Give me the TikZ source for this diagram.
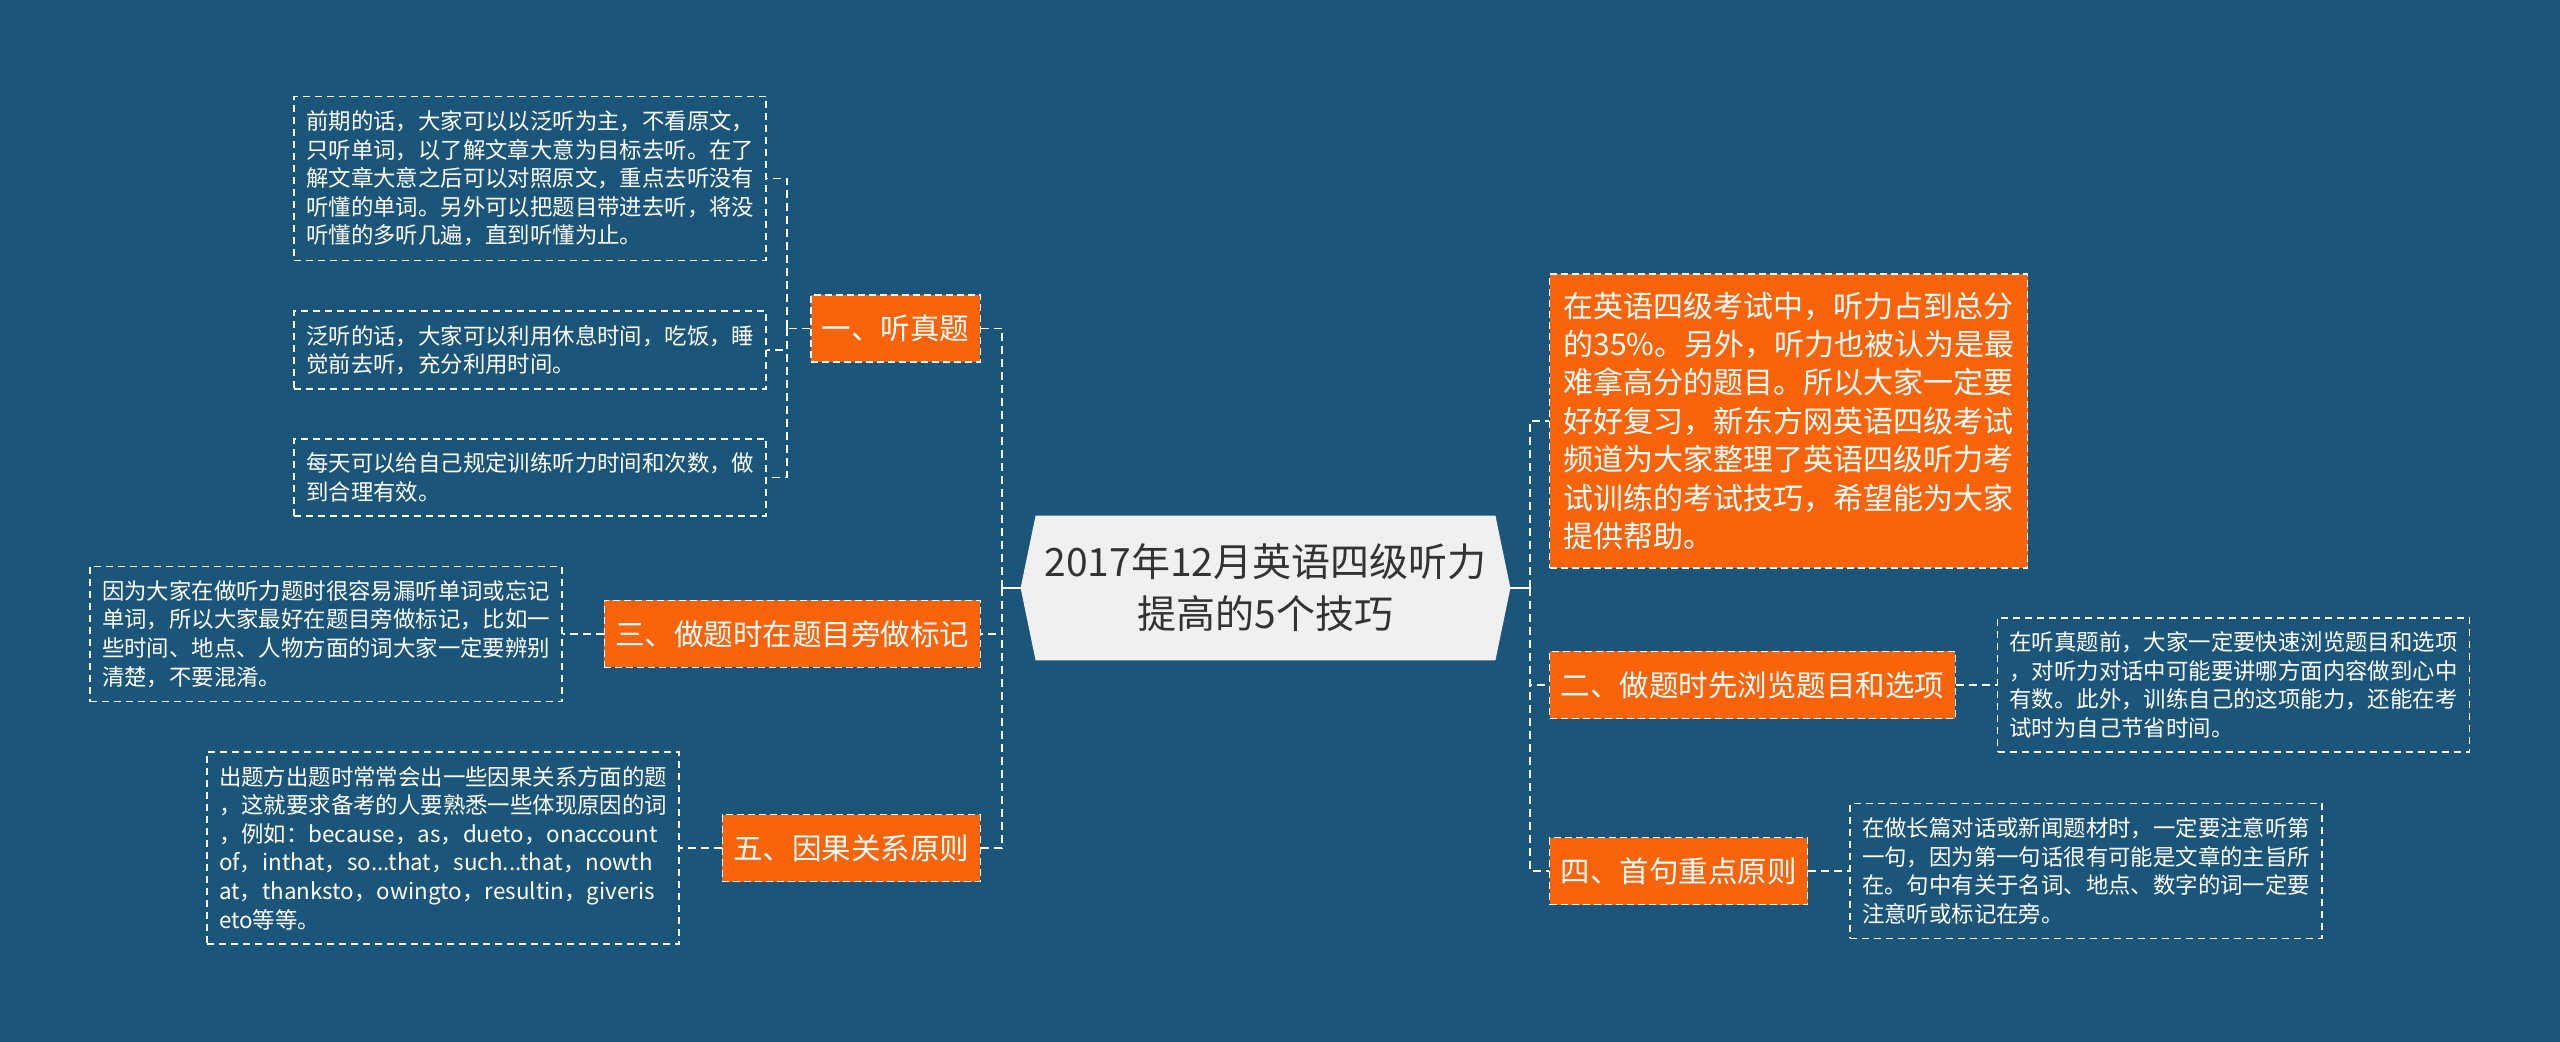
\documentclass[tikz,border=0pt]{standalone}
\usepackage{fontspec}
\setmainfont{Noto Sans CJK SC}
\usepackage{xcolor}
\definecolor{tipbg}{HTML}{1B5579}
\definecolor{tiporange}{HTML}{F9640A}
\definecolor{tiproot}{HTML}{F0F0F0}
\definecolor{tipink}{HTML}{333333}
\usepackage{tikz}
\usetikzlibrary{positioning,calc,backgrounds}
\tikzset{
  tipleaf/.style={draw=white,dash pattern=on 3.5pt off 2.5pt,line width=0.8pt,text=white,text width=224pt,align=left,inner xsep=6pt,inner ysep=7pt,font=\fontsize{11.2pt}{14.3pt}\selectfont},
  tipmain/.style={draw=white,dash pattern=on 3.5pt off 2pt,line width=0.6pt,fill=tiporange,text=white,inner xsep=5.5pt,minimum height=33.5pt,font=\fontsize{14.75pt}{19pt}\selectfont},
  tipnote/.style={tipmain,text width=225pt,align=left,inner xsep=7pt,inner ysep=9pt,font=\fontsize{15pt}{19.2pt}\selectfont},
  tipcenter/.style={text=tipink,align=center,minimum width=229.5pt,minimum height=72pt,font=\fontsize{19.5pt}{26pt}\selectfont},
  tiplink/.style={draw=white,dash pattern=on 4pt off 2.5pt,line width=0.9pt},
  tipstem/.style={draw=white,line width=0.9pt},
}

\begin{document}
\begin{tikzpicture}[x=0.5pt,y=-0.5pt]
\useasboundingbox (0,0) rectangle (2560,1042);
\node[tipcenter] (root) at (1265.5,588) {2017年12月英语四级听力\\提高的5个技巧};
\coordinate (rootL) at ([xshift=-7.5pt]root.west);
\coordinate (rootR) at ([xshift=7.5pt]root.east);
\begin{scope}[on background layer]
\fill[tipbg] (0,0) rectangle (2560,1042);
\fill[tiproot] (root.north west) -- (root.north east) -- (rootR) -- (root.south east) -- (root.south west) -- (rootL) -- cycle;
\end{scope}

% left branches
\node[tipmain,anchor=east] (n1) at (981,328.5) {一、听真题};
\node[tipmain,anchor=east] (n3) at (981,634) {三、做题时在题目旁做标记};
\node[tipmain,anchor=east] (n5) at (981,848) {五、因果关系原则};

\node[tipleaf,anchor=east] (l1a) at (767,178.5) {前期的话，大家可以以泛听为主，不看原文，\\只听单词，以了解文章大意为目标去听。在了\\解文章大意之后可以对照原文，重点去听没有\\听懂的单词。另外可以把题目带进去听，将没\\听懂的多听几遍，直到听懂为止。};
\node[tipleaf,anchor=east] (l1b) at (767,350) {泛听的话，大家可以利用休息时间，吃饭，睡\\觉前去听，充分利用时间。};
\node[tipleaf,anchor=east] (l1c) at (767,477.5) {每天可以给自己规定训练听力时间和次数，做\\到合理有效。};
\node[tipleaf,left=20.5pt of n3] (l3) {因为大家在做听力题时很容易漏听单词或忘记\\单词，所以大家最好在题目旁做标记，比如一\\些时间、地点、人物方面的词大家一定要辨别\\清楚，不要混淆。};
\node[tipleaf,left=21pt of n5] (l5) {出题方出题时常常会出一些因果关系方面的题\\，这就要求备考的人要熟悉一些体现原因的词\\，例如：because，as，dueto，onaccount\\of，inthat，so...that，such...that，nowth\\at，thanksto，owingto，resultin，giveris\\eto等等。};

% right branches
\node[tipnote,anchor=west] (intro) at (1549,421) {在英语四级考试中，听力占到总分\\的35\%。另外，听力也被认为是最\\难拿高分的题目。所以大家一定要\\好好复习，新东方网英语四级考试\\频道为大家整理了英语四级听力考\\试训练的考试技巧，希望能为大家\\提供帮助。};
\node[tipmain,anchor=west] (n2) at (1549,685) {二、做题时先浏览题目和选项};
\node[tipmain,anchor=west] (n4) at (1549,871) {四、首句重点原则};

\node[tipleaf,right=20.5pt of n2] (l2) {在听真题前，大家一定要快速浏览题目和选项\\，对听力对话中可能要讲哪方面内容做到心中\\有数。此外，训练自己的这项能力，还能在考\\试时为自己节省时间。};
\node[tipleaf,right=20.5pt of n4] (l4) {在做长篇对话或新闻题材时，一定要注意听第\\一句，因为第一句话很有可能是文章的主旨所\\在。句中有关于名词、地点、数字的词一定要\\注意听或标记在旁。};

% connectors
\coordinate (ltrunk) at (1002,588);
\coordinate (rtrunk) at (1530,588);
\coordinate (j1) at (787,328.5);
\draw[tipstem] (rootL) -- (ltrunk);
\draw[tipstem] (rootR) -- (rtrunk);
\draw[tiplink] (ltrunk) |- (n1.east);
\draw[tiplink] (ltrunk) |- (n3.east);
\draw[tiplink] (ltrunk) |- (n5.east);
\draw[tiplink] (rtrunk) |- (intro.west);
\draw[tiplink] (rtrunk) |- (n2.west);
\draw[tiplink] (rtrunk) |- (n4.west);
\draw[tiplink] (n1.west) -- (j1);
\draw[tiplink] (j1) |- (l1a.east);
\draw[tiplink] (j1) |- (l1b.east);
\draw[tiplink] (j1) |- (l1c.east);
\draw[tiplink] (n3.west) -- (l3.east);
\draw[tiplink] (n5.west) -- (l5.east);
\draw[tiplink] (n2.east) -- (l2.west);
\draw[tiplink] (n4.east) -- (l4.west);
\end{tikzpicture}
\end{document}
